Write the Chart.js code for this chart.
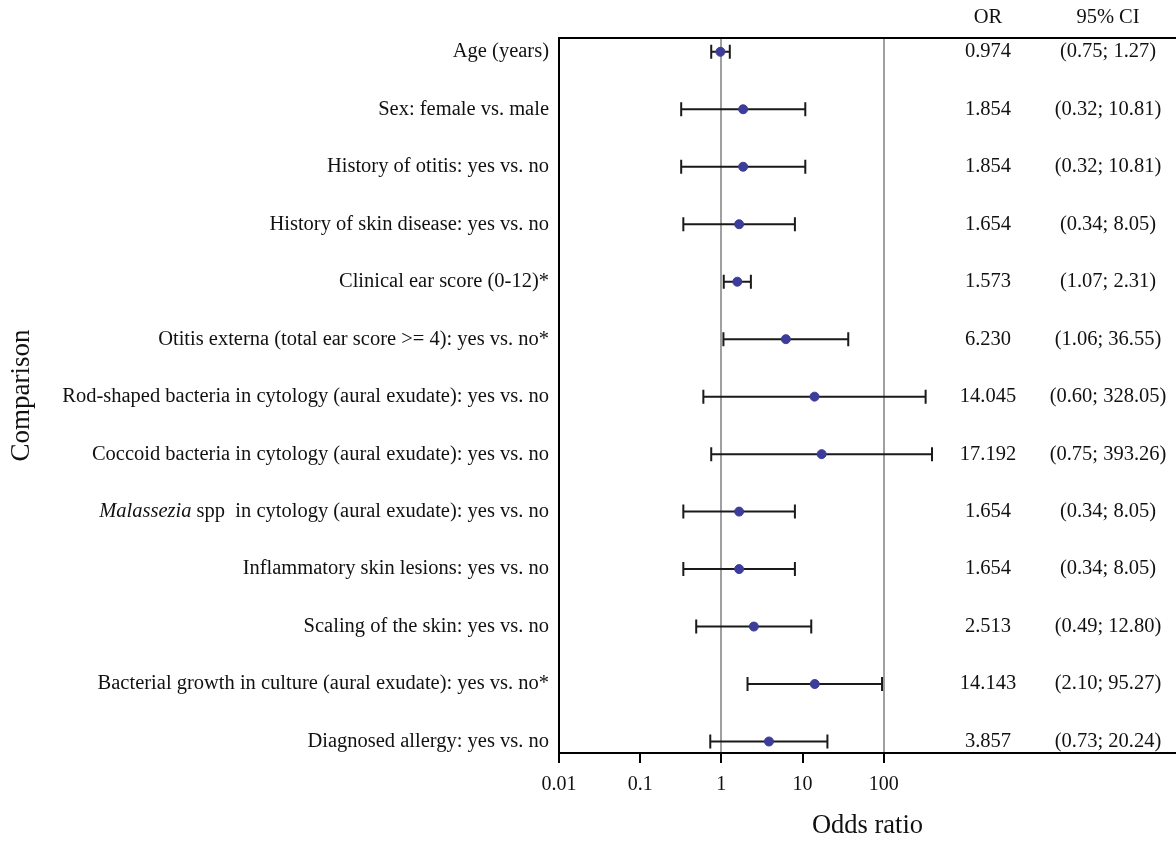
<!DOCTYPE html>
<html>
<head>
<meta charset="utf-8">
<script src="https://cdn.jsdelivr.net/npm/chart.js@4"></script>
<style>
  body { margin: 0; background: #fff; }
</style>
</head>
<body>
<canvas id="chart" width="1176" height="842"></canvas>
<script>
// one row per comparison, top to bottom
const comparisons = [
    "Age (years)",
    "Sex: female vs. male",
    "History of otitis: yes vs. no",
    "History of skin disease: yes vs. no",
    "Clinical ear score (0-12)*",
    "Otitis externa (total ear score >= 4): yes vs. no*",
    "Rod-shaped bacteria in cytology (aural exudate): yes vs. no",
    "Coccoid bacteria in cytology (aural exudate): yes vs. no",
    "Malassezia spp  in cytology (aural exudate): yes vs. no",
    "Inflammatory skin lesions: yes vs. no",
    "Scaling of the skin: yes vs. no",
    "Bacterial growth in culture (aural exudate): yes vs. no*",
    "Diagnosed allergy: yes vs. no"
];
const oddsRatio = [0.974, 1.854, 1.854, 1.654, 1.573, 6.230, 14.045, 17.192, 1.654, 1.654, 2.513, 14.143, 3.857];
const ciLow = [0.75, 0.32, 0.32, 0.34, 1.07, 1.06, 0.60, 0.75, 0.34, 0.34, 0.49, 2.10, 0.73];
const ciHigh = [1.27, 10.81, 10.81, 8.05, 2.31, 36.55, 328.05, 393.26, 8.05, 8.05, 12.80, 95.27, 20.24];
const xTicks = [0.01, 0.1, 1, 10, 100];
const refLines = [1, 100];

const serif = '"Liberation Serif", "DejaVu Serif", serif';
const textSize = 20.5;

const forestPlugin = {
    id: "forest",
    beforeDatasetsDraw(chart) {
        let ctx = chart.ctx;
        let xs = chart.scales.x, ys = chart.scales.y;
        ctx.save();
        ctx.strokeStyle = "#1a1a1a";
        ctx.lineWidth = 2;
        for (let i = 0; i < comparisons.length; i++) {
            let y = ys.getPixelForValue(i + 1);
            let x0 = xs.getPixelForValue(ciLow[i]);
            let x1 = xs.getPixelForValue(ciHigh[i]);
            ctx.beginPath();
            ctx.moveTo(x0, y); ctx.lineTo(x1, y);
            ctx.moveTo(x0, y - 7); ctx.lineTo(x0, y + 7);
            ctx.moveTo(x1, y - 7); ctx.lineTo(x1, y + 7);
            ctx.stroke();
        }
        ctx.restore();
    },
    afterDraw(chart) {
        let ctx = chart.ctx;
        let area = chart.chartArea;
        let ys = chart.scales.y;
        ctx.save();
        // top frame line
        ctx.strokeStyle = "#000";
        ctx.lineWidth = 2;
        ctx.beginPath();
        ctx.moveTo(area.left - 1, area.top);
        ctx.lineTo(area.right, area.top);
        ctx.stroke();

        ctx.fillStyle = "#111";
        ctx.textBaseline = "middle";
        let font = textSize + "px " + serif;
        ctx.font = font;
        let orX = area.right - 188, ciX = area.right - 68;
        ctx.textAlign = "center";
        ctx.fillText("OR", orX, 18);
        ctx.fillText("95% CI", ciX, 18);

        for (let i = 0; i < comparisons.length; i++) {
            let y = ys.getPixelForValue(i + 1);
            ctx.textAlign = "center";
            ctx.font = font;
            ctx.fillText(oddsRatio[i].toFixed(3), orX, y);
            ctx.fillText("(" + ciLow[i].toFixed(2) + "; " + ciHigh[i].toFixed(2) + ")", ciX, y);

            let label = comparisons[i];
            let right = area.left - 10;
            ctx.textAlign = "right";
            if (label.startsWith("Malassezia")) {
                let rest = label.slice("Malassezia".length);
                let wRest = ctx.measureText(rest).width;
                ctx.fillText(rest, right, y);
                ctx.font = "italic " + font;
                ctx.fillText("Malassezia", right - wRest, y);
            } else {
                ctx.fillText(label, right, y);
            }
        }
        ctx.restore();
    }
};

new Chart(document.getElementById("chart"), {
    type: "scatter",
    data: {
        datasets: [{
            data: oddsRatio.map((v, i) => ({ x: v, y: i + 1 })),
            backgroundColor: "#3c3c9a",
            borderColor: "#3c3c9a",
            pointRadius: 4.5,
            pointHoverRadius: 4.5
        }]
    },
    options: {
        responsive: false,
        animation: false,
        devicePixelRatio: 1,
        layout: { autoPadding: false, padding: { top: 38, right: 0, left: 0, bottom: 0 } },
        plugins: { legend: { display: false }, tooltip: { enabled: false } },
        scales: {
            x: {
                type: "logarithmic",
                min: 0.01,
                max: Math.pow(10, 5.6),
                afterBuildTicks: scale => { scale.ticks = xTicks.map(v => ({ value: v })); },
                afterFit: scale => {
                    scale.height = 89;
                    scale.paddingLeft = 0;
                    scale.paddingRight = 0;
                },
                ticks: {
                    color: "#111",
                    font: { family: serif, size: 20 },
                    padding: 10,
                    maxRotation: 0,
                    autoSkip: false,
                    callback: v => String(v)
                },
                grid: {
                    color: c => (c.tick && refLines.includes(c.tick.value)) ? "#a0a0a0" : "rgba(0,0,0,0)",
                    lineWidth: 2,
                    tickColor: "#000",
                    tickLength: 10,
                    tickWidth: 2
                },
                border: { display: true, color: "#000", width: 2 },
                title: {
                    display: true,
                    text: "Odds ratio",
                    color: "#111",
                    font: { family: serif, size: 26.5 },
                    padding: { top: 0, bottom: 0 }
                }
            },
            y: {
                type: "linear",
                reverse: true,
                min: 0.76,
                max: 13.2,
                afterFit: scale => { scale.width = 559; },
                ticks: { display: false },
                grid: { display: false },
                border: { display: true, color: "#000", width: 2 },
                title: {
                    display: true,
                    text: "Comparison",
                    color: "#111",
                    font: { family: serif, size: 27 },
                    padding: { top: 6, bottom: 0 }
                }
            }
        }
    },
    plugins: [forestPlugin]
});
</script>
</body>
</html>
